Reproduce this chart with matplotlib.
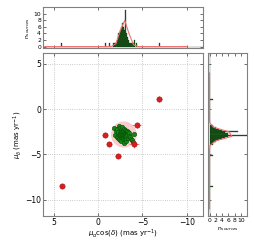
import numpy as np
import matplotlib
matplotlib.use('Agg')
import matplotlib.pyplot as plt
from matplotlib.patches import Ellipse

# member stars (green)
pmra_g = [-1.78, -1.90, -2.02, -2.12, -2.16, -2.23, -2.26, -2.29, -2.34, -2.37,
          -2.40, -2.42, -2.46, -2.48, -2.50, -2.52, -2.54, -2.57, -2.59, -2.61,
          -2.63, -2.65, -2.67, -2.69, -2.71, -2.73, -2.74, -2.76, -2.77, -2.79,
          -2.82, -2.84, -2.86, -2.88, -2.90, -2.91, -2.94, -2.96, -2.98, -3.00,
          -3.02, -3.05, -3.06, -3.07, -3.08, -3.09, -3.10, -3.11, -3.12, -3.13,
          -3.14, -3.15, -3.18, -3.21, -3.24, -3.27, -3.31, -3.35, -3.38, -3.44,
          -3.49, -3.58, -3.70, -3.82, -3.95, -4.08]
pmdec_g = [-2.05, -2.85, -2.46, -3.06, -2.23, -2.70, -3.21, -2.47, -1.90, -2.81,
           -3.31, -2.58, -2.12, -2.94, -3.44, -2.72, -2.35, -3.09, -2.48, -2.82,
           -3.56, -2.00, -2.96, -2.61, -3.18, -2.50, -2.83, -3.35, -2.27, -2.74,
           -3.11, -2.51, -2.84, -3.70, -2.17, -2.98, -2.63, -2.86, -3.24, -2.38,
           -2.52, -2.87, -3.00, -2.30, -2.76, -3.49, -2.53, -2.88, -3.13, -2.40,
           -2.65, -2.89, -3.01, -2.54, -2.43, -2.77, -2.90, -3.15, -2.55, -2.67,
           -2.91, -3.03, -3.27, -3.38, -3.61, -2.79]
err_g = 0.1

# outliers (red)
pmra_r = [-6.9, -4.33, -4.06, -2.24, -0.82, -1.27, 4.06]
pmdec_r = [1.1, -1.8, -3.9, -5.16, -2.88, -3.8, -8.48]
pmra_r_err = [0.3, 0.5, 0.55, 0.3, 0.1, 0.1, 0.12]
pmdec_r_err = [0.35, 0.3, 0.4, 0.2, 0.1, 0.1, 0.12]

# gaussian fits drawn on the histograms (center, sigma, amplitude)
fit_ra = (-2.95, 0.45, 8.0)
fit_dec = (-2.8, 0.42, 8.0)

# selection circle
circ_center = (-2.9, -2.8)
circ_radius = 1.45

lims = (-11.8, 6.2)
fs = 5.5
fs_lab = 5.0
fs_small = 4.3

fig = plt.figure(figsize=(2.55, 2.40), dpi=100)
ax = fig.add_axes([0.1686, 0.10, 0.627, 0.679])
axt = fig.add_axes([0.1686, 0.799, 0.627, 0.172])
axr = fig.add_axes([0.8157, 0.10, 0.153, 0.679])

spc = '#808080'
for a in (ax, axt, axr):
    for s in a.spines.values():
        s.set_color(spc)
    a.tick_params(direction='in', top=True, right=True, color='#555555',
                  labelsize=fs, length=2.5, width=0.6, pad=1.5)
axt.tick_params(labelsize=fs_small, pad=1.5)
axr.tick_params(labelsize=fs_small, pad=1.5)

# main scatter
ax.grid(True, ls=':', color='#bbbbbb', lw=0.6)
ax.add_patch(Ellipse(circ_center, 2 * circ_radius, 2 * circ_radius,
                     facecolor='#f7b8b8', edgecolor='none', alpha=0.7, zorder=1))
ax.errorbar(pmra_g, pmdec_g, xerr=err_g, yerr=err_g, fmt='o', ms=3.2,
            color='#118811', mec='#0b4d0b', mew=0.4, ecolor='#66bb66',
            elinewidth=0.5, zorder=3)
ax.errorbar(pmra_r, pmdec_r, xerr=pmra_r_err, yerr=pmdec_r_err, fmt='o', ms=3.8,
            color='#d81e1e', mec='#a01010', mew=0.4, ecolor='#f08080',
            elinewidth=0.7, zorder=4)
ax.set_xlim(lims[1], lims[0])
ax.set_ylim(*lims)
ax.set_xticks([5, 0, -5, -10])
ax.set_yticks([5, 0, -5, -10])
ax.set_xlabel(r'$\mu_\alpha\cos(\delta)$ (mas yr$^{-1}$)', fontsize=fs_lab, labelpad=0.5)
ax.set_ylabel(r'$\mu_\delta$ (mas yr$^{-1}$)', fontsize=fs_lab, labelpad=1)

all_ra = pmra_g + pmra_r
all_dec = pmdec_g + pmdec_r
bins = np.arange(lims[0], lims[1] + 0.12, 0.12)
bar_kw = dict(color='#1d5e1d', edgecolor='#0a2a0a', lw=0.2)

# top histogram
axt.hist(all_ra, bins=bins, **bar_kw)
gx = np.linspace(-10, 6, 33)
axt.plot(gx, fit_ra[2] * np.exp(-0.5 * ((gx - fit_ra[0]) / fit_ra[1]) ** 2),
         color='#f07070', lw=0.8)
axt.set_xlim(lims[1], lims[0])
axt.set_ylim(-0.5, 12)
axt.set_xticks([5, 0, -5, -10])
axt.set_xticklabels([])
axt.set_yticks([0, 2, 4, 6, 8, 10])
axt.set_ylabel(r'n$_{sources}$', fontsize=fs_small, labelpad=1)

# right histogram
axr.hist(all_dec, bins=bins, orientation='horizontal', **bar_kw)
gy = np.linspace(-11, 4, 31)
axr.plot(fit_dec[2] * np.exp(-0.5 * ((gy - fit_dec[0]) / fit_dec[1]) ** 2), gy,
         color='#f07070', lw=0.8)
axr.set_ylim(*lims)
axr.set_xlim(-0.5, 12)
axr.set_yticks([5, 0, -5, -10])
axr.set_yticklabels([])
axr.set_xticks([0, 2, 4, 6, 8, 10])
axr.set_xlabel(r'n$_{sources}$', fontsize=fs_small, labelpad=1.5)

fig.savefig('out.png', dpi=100)
